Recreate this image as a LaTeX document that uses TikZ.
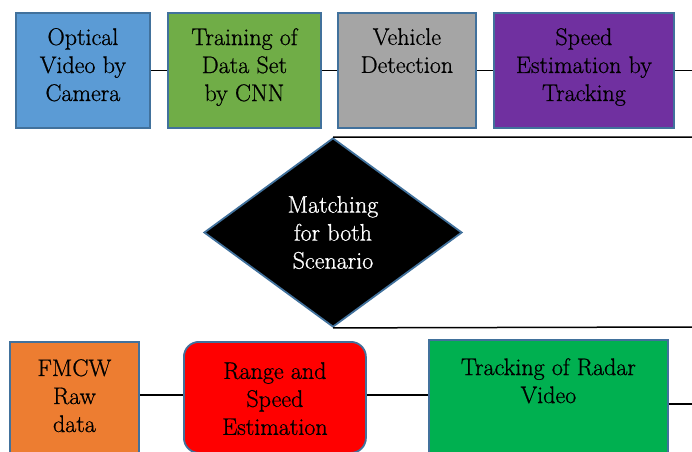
\documentclass[tikz,border=0pt]{standalone}
\usepackage{fontspec}
\newfontfamily\tnr{Latin Modern Roman}[FakeBold=0.8]
\usetikzlibrary{shapes.geometric}
\definecolor{edgeblue}{HTML}{41719C}
\definecolor{cblue}{HTML}{5B9BD5}
\definecolor{cgreen}{HTML}{70AD47}
\definecolor{cgray}{HTML}{A5A5A5}
\definecolor{cpurple}{HTML}{7030A0}
\definecolor{corange}{HTML}{ED7D31}
\definecolor{cred}{HTML}{FF0000}
\definecolor{cgreentwo}{HTML}{00B050}
\begin{document}
\begin{tikzpicture}[x=1pt,y=-1pt,
  box/.style={draw=edgeblue, line width=1.8pt, inner sep=0pt, anchor=north west, rectangle},
  lbl/.style={anchor=north, align=center, inner sep=0pt, font=\tnr\fontsize{24}{28}\selectfont},
  conn/.style={line width=1.5pt, black}]
\useasboundingbox (0,0) rectangle (692,451);
\clip (0,0) rectangle (692,451);
% top row
\node[box, fill=cblue, minimum width=134pt, minimum height=115pt] (cam) at (15,12) {};
\node[box, fill=cgreen, minimum width=153pt, minimum height=115pt] (cnn) at (167,12) {};
\node[box, fill=cgray, minimum width=138pt, minimum height=115pt] (det) at (337,12) {};
\node[box, fill=cpurple, minimum width=180pt, minimum height=115pt] (spd) at (493,12) {};
\node[lbl] (camt) at (cam.north |- 0,28) {Optical\\Video by\\Camera};
\node[lbl] (cnnt) at (cnn.north |- 0,28) {Training of\\Data Set\\by CNN};
\node[lbl] (dett) at (det.north |- 0,28) {Vehicle\\Detection};
\node[lbl] (spdt) at (spd.north |- 0,28) {Speed\\Estimation by\\Tracking};
\coordinate (topend) at (692,0);
\draw[conn] (cam.east) -- (cnn.west);
\draw[conn] (cnn.east) -- (det.west);
\draw[conn] (det.east) -- (spd.west);
\draw[conn] (spd.east) -- (spd.east -| topend);
% diamond
\node[diamond, draw=edgeblue, line width=1.8pt, fill=black, text=white, inner sep=0pt,
      minimum width=258pt, minimum height=189pt, align=center,
      font=\tnr\fontsize{24}{28}\selectfont] (match) at (333,232.5) {Matching\\for both\\Scenario};
\coordinate (dtop) at (692,137);
\coordinate (dbot) at (692,327);
\draw[conn] (match.north) -- (dtop);
\draw[conn] (match.south) -- (dbot);
% bottom row
\node[box, fill=corange, minimum width=129pt, minimum height=130pt] (fmcw) at (9,341) {};
\node[box, fill=cred, minimum width=182pt, minimum height=111pt, rounded corners=15pt] (rng) at (183,341) {};
\node[box, fill=cgreentwo, minimum width=239pt, minimum height=130pt] (trk) at (428,339) {};
\node[lbl] (fmcwt) at (fmcw.north |- 0,359) {FMCW\\Raw\\data};
\node[lbl] (rngt) at (rng.north |- 0,362) {Range and\\Speed\\Estimation};
\node[lbl] (trkt) at (trk.north |- 0,358) {Tracking of Radar\\Video};
\coordinate (botend) at (692,404);
\draw[conn] (fmcw.east |- 0,395) -- (rng.west |- 0,395);
\draw[conn] (rng.east |- 0,395) -- (trk.west |- 0,395);
\draw[conn] (trk.east |- botend) -- (botend);
\end{tikzpicture}
\end{document}
